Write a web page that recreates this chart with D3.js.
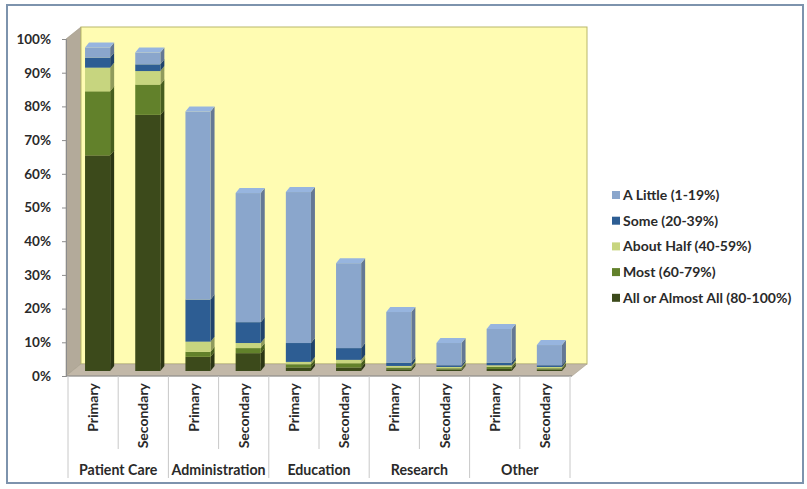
<!DOCTYPE html>
<html>
<head>
<meta charset="utf-8">
<script src="https://cdn.jsdelivr.net/npm/d3@7"></script>
<style>
  html, body { margin: 0; padding: 0; background: #fff; }
  svg { display: block; }
  text { font-family: Lato, "Open Sans", sans-serif; font-weight: bold; fill: #2a2a2a; }
</style>
</head>
<body>
<svg id="chart" width="807" height="489"></svg>
<script>
// Work-time share by activity, respondents' primary and secondary roles
const groups = ["Patient Care", "Administration", "Education", "Research", "Other"];
const roles = ["Primary", "Secondary"];
const seriesNames = [
  "All or Almost All (80-100%)",
  "Most (60-79%)",
  "About Half (40-59%)",
  "Some (20-39%)",
  "A Little (1-19%)"
];
// values in percent, one per group/role pair (Patient Care Primary, Patient Care Secondary, ...)
const allOrAlmostAll = [64, 76, 4.2, 5.3, 1.0, 1.0, 0.5, 0.4, 0.6, 0.4];
const most           = [19, 9, 1.5, 1.5, 1.0, 1.3, 0.5, 0.4, 0.6, 0.4];
const aboutHalf      = [7, 4, 3.0, 1.5, 0.7, 1.0, 0.5, 0.4, 0.5, 0.4];
const some           = [3, 2, 12.5, 6.2, 5.6, 3.5, 1.0, 0.5, 0.8, 0.5];
const aLittle        = [3, 3.5, 55.8, 38.3, 44.8, 25.2, 15.0, 6.6, 10.0, 6.0];
const seriesColors = ["#3c4a1b", "#62812b", "#c7d57f", "#2d5d93", "#8aa6cc"];
const yTicks = [0, 10, 20, 30, 40, 50, 60, 70, 80, 90, 100];

(function draw() {
  const seriesValues = [allOrAlmostAll, most, aboutHalf, some, aLittle];
  const keys = [];
  groups.forEach(g => roles.forEach(r => keys.push(g + "|" + r)));
  const rows = keys.map((k, i) => {
    const row = { key: k };
    seriesNames.forEach((s, j) => { row[s] = seriesValues[j][i]; });
    return row;
  });

  const svg = d3.select("#chart");

  // outer frame
  svg.append("rect")
    .attr("x", 7).attr("y", 5).attr("width", 796).attr("height", 478)
    .attr("fill", "#fff").attr("stroke", "#7d93ad").attr("stroke-width", 2);

  // front plane geometry
  const plotLeft = 66, plotRight = 572, plotBottom = 376, plotTop = 39;
  const depth = { dx: 15, dy: -12 };

  const y = d3.scaleLinear().domain([0, 100]).range([plotBottom, plotTop]);
  const x = d3.scaleBand().domain(keys).range([68, 570]).padding(0);

  // 3D walls
  const wallY = v => y(v) + depth.dy;
  const g3d = svg.append("g");
  g3d.append("polygon") // left side wall
    .attr("points", [[plotLeft, y(100)], [plotLeft + depth.dx, wallY(100)], [plotLeft + depth.dx, wallY(0)], [plotLeft, y(0)]].join(" "))
    .attr("fill", "#b3aa9a").attr("stroke", "#9c947f").attr("stroke-width", 0.6);
  g3d.append("rect") // back wall
    .attr("x", plotLeft + depth.dx).attr("y", wallY(100))
    .attr("width", plotRight - plotLeft).attr("height", wallY(0) - wallY(100))
    .attr("fill", "#fffcb2").attr("stroke", "#b9b86a").attr("stroke-width", 1);
  g3d.append("polygon") // floor
    .attr("points", [[plotLeft, y(0)], [plotLeft + depth.dx, wallY(0)], [plotRight + depth.dx, wallY(0)], [plotRight, y(0)]].join(" "))
    .attr("fill", "#c2b8a8").attr("stroke", "#a89f8d").attr("stroke-width", 0.6);

  // stacked 3D columns
  const stacked = d3.stack().keys(seriesNames)(rows);
  const barShift = { dx: 6, dy: -5 };   // columns sit part-way into the depth
  const barDepth = { dx: 4, dy: -5 };
  const barW = x.bandwidth() * 0.5;
  const barOffset = x.bandwidth() * 0.22;
  const yb = v => y(v) + barShift.dy;

  const bars = svg.append("g");
  keys.forEach((k, i) => {
    const x0 = x(k) + barOffset + barShift.dx;
    const x1 = x0 + barW;
    stacked.forEach((layer, j) => {
      const d = layer[i];
      const c = d3.color(seriesColors[j]);
      const yTop = yb(d[1]), yBot = yb(d[0]);
      // side face
      bars.append("polygon")
        .attr("points", [[x1, yBot], [x1 + barDepth.dx, yBot + barDepth.dy], [x1 + barDepth.dx, yTop + barDepth.dy], [x1, yTop]].join(" "))
        .attr("fill", c.darker(0.9));
      // front face
      bars.append("rect")
        .attr("x", x0).attr("y", yTop)
        .attr("width", barW).attr("height", Math.max(0, yBot - yTop))
        .attr("fill", c);
      if (j === stacked.length - 1) {
        bars.append("polygon")
          .attr("points", [[x0, yTop], [x0 + barDepth.dx, yTop + barDepth.dy], [x1 + barDepth.dx, yTop + barDepth.dy], [x1, yTop]].join(" "))
          .attr("fill", c.brighter(0.25));
      }
    });
  });

  // value axis
  const yAxis = svg.append("g")
    .attr("transform", `translate(${plotLeft},0)`)
    .call(d3.axisLeft(y).tickValues(yTicks).tickFormat(d => d + "%").tickSize(4).tickPadding(11));
  yAxis.select(".domain").attr("stroke", "#8c8c8c");
  yAxis.selectAll(".tick line").attr("stroke", "#8c8c8c");
  yAxis.selectAll("text").style("font-size", "13.5px").attr("fill", "#2a2a2a");

  // category axis, two levels
  const xAxis = svg.append("g");
  xAxis.append("line")
    .attr("x1", plotLeft).attr("x2", plotRight).attr("y1", plotBottom).attr("y2", plotBottom)
    .attr("stroke", "#8c8c8c");
  const boundaries = keys.map(k => x(k)).concat([x.range()[1]]);
  boundaries.forEach((bx, i) => {
    const isGroupEdge = i % 2 === 0;
    xAxis.append("line")
      .attr("x1", bx).attr("x2", bx)
      .attr("y1", plotBottom).attr("y2", isGroupEdge ? 478 : 449)
      .attr("stroke", "#c8c8c8");
  });
  keys.forEach(k => {
    const role = k.split("|")[1];
    xAxis.append("text")
      .attr("transform", `translate(${x(k) + x.bandwidth() / 2 + 5},383) rotate(-90)`)
      .attr("text-anchor", "end")
      .style("font-size", "14px")
      .text(role);
  });
  groups.forEach(g => {
    const gx = (x(g + "|" + roles[0]) + x(g + "|" + roles[1]) + x.bandwidth()) / 2;
    xAxis.append("text")
      .attr("x", gx).attr("y", 475)
      .attr("text-anchor", "middle")
      .style("font-size", "14.2px")
      .text(g);
  });

  // legend
  const legendOrder = seriesNames.map((s, j) => ({ name: s, color: seriesColors[j] })).reverse();
  const legend = svg.append("g").attr("transform", "translate(612,195)");
  legendOrder.forEach((item, i) => {
    const row = legend.append("g").attr("transform", `translate(0,${i * 25.7})`);
    row.append("rect").attr("x", 0).attr("y", -4).attr("width", 8).attr("height", 8).attr("fill", item.color);
    row.append("text").attr("x", 11).attr("y", 5).style("font-size", "14px").text(item.name);
  });
})();
</script>
</body>
</html>
